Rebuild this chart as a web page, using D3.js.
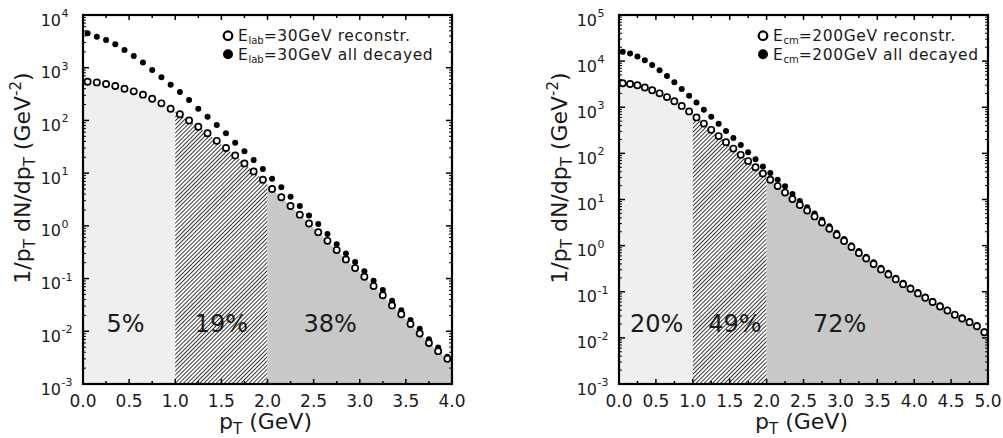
<!DOCTYPE html>
<html>
<head>
<meta charset="utf-8">
<script src="https://cdn.jsdelivr.net/npm/d3@7"></script>
<style>
body { margin: 0; background: #fff; }
svg { display: block; }
text { font-family: "DejaVu Sans", sans-serif; fill: #1a1a1a; }
</style>
</head>
<body>
<div id="chart"></div>
<script>
// E_lab = 30 GeV panel
var ptLab = [0.05,0.15,0.25,0.35,0.45,0.55,0.65,0.75,0.85,0.95,
             1.05,1.15,1.25,1.35,1.45,1.55,1.65,1.75,1.85,1.95,
             2.05,2.15,2.25,2.35,2.45,2.55,2.65,2.75,2.85,2.95,
             3.05,3.15,3.25,3.35,3.45,3.55,3.65,3.75,3.85,3.95];
var labReconstr = [543,527,491,450,400,356,308,258,211,167,
                   131,100,76,57,41,30,21.7,15.3,10.8,7.5,
                   5.0,3.5,2.38,1.63,1.11,0.76,0.52,0.347,0.231,0.158,
                   0.108,0.072,0.048,0.031,0.021,0.0137,0.0091,0.0060,0.0042,0.0030];
var labDecayed = [4490,3880,3360,2780,2170,1670,1250,904,656,477,
                  346,244,167,118,82,57,37.8,25.9,17.7,12.0,
                  7.8,5.4,3.57,2.38,1.58,1.08,0.70,0.45,0.30,0.206,
                  0.137,0.091,0.061,0.038,0.025,0.0163,0.0112,0.0071,0.0049,0.0033];

// E_cm = 200 GeV panel
var ptCm = [0.05,0.15,0.25,0.35,0.45,0.55,0.65,0.75,0.85,0.95,
            1.05,1.15,1.25,1.35,1.45,1.55,1.65,1.75,1.85,1.95,
            2.05,2.15,2.25,2.35,2.45,2.55,2.65,2.75,2.85,2.95,
            3.05,3.15,3.25,3.35,3.45,3.55,3.65,3.75,3.85,3.95,
            4.05,4.15,4.25,4.35,4.45,4.55,4.65,4.75,4.85,4.95];
var cmReconstr = [3310,3200,2990,2690,2340,2000,1660,1350,1070,813,
                  603,442,324,237,174,127,93,68,50,36.7,
                  26.9,19.5,14.1,10.2,7.6,5.75,4.3,3.16,2.32,1.70,
                  1.26,0.93,0.69,0.525,0.40,0.305,0.237,0.186,0.146,0.116,
                  0.092,0.074,0.060,0.048,0.039,0.0316,0.0263,0.0219,0.0178,0.0132];
var cmDecayed = [16000,14600,12600,10400,8220,6310,4730,3470,2480,1780,
                 1260,885,622,437,307,216,151,106,75,52,
                 37.6,26.9,19.3,13.2,9.3,6.8,5.0,3.63,2.63,1.91,
                 1.40,1.02,0.76,0.575,0.436,0.331,0.257,0.20,0.157,0.124,
                 0.099,0.079,0.063,0.051,0.041,0.0335,0.0279,0.0232,0.0188,0.0138];

var bandEdges = [0, 1, 2];
var fractionsLab = ["5%", "19%", "38%"];
var fractionsCm = ["20%", "49%", "72%"];
var fractionPosLab = [0.46, 1.5, 2.68];
var fractionPosCm = [0.51, 1.57, 2.99];

var expLab = [-3,-2,-1,0,1,2,3,4];
var expCm = [-3,-2,-1,0,1,2,3,4,5];
var xLabelsLab = ["0.0","0.5","1.0","1.5","2.0","2.5","3.0","3.5","4.0"];
var xLabelsCm = ["0.0","0.5","1.0","1.5","2.0","2.5","3.0","3.5","4.0","4.5","5.0"];

var width = 1003,
	height = 438;

var top_ = 15, bottom = 384;

var svg = d3.select("#chart")
	.append("svg")
		.attr("width", width)
		.attr("height", height);

var defs = svg.append("defs");
var hatch = defs.append("pattern")
	.attr("id", "hatch")
	.attr("patternUnits", "userSpaceOnUse")
	.attr("width", 2.9)
	.attr("height", 10)
	.attr("patternTransform", "rotate(45)");
hatch.append("rect").attr("width", 2.9).attr("height", 10).attr("fill", "#fff");
hatch.append("line")
	.attr("x1", 0.5).attr("y1", 0).attr("x2", 0.5).attr("y2", 10)
	.attr("stroke", "#000").attr("stroke-width", 0.8);

drawPanel({
	id: "lab", left: 83, right: 452, xMax: 4, yMax: 1e4,
	pt: ptLab, reco: labReconstr, decayed: labDecayed,
	exps: expLab, xLabels: xLabelsLab,
	fractions: fractionsLab, fractionPos: fractionPosLab,
	sub: "lab", legend: ["=30GeV reconstr.", "=30GeV all decayed"],
	legX: 228, titleX: 30
});

drawPanel({
	id: "cm", left: 619, right: 988, xMax: 5, yMax: 1e5,
	pt: ptCm, reco: cmReconstr, decayed: cmDecayed,
	exps: expCm, xLabels: xLabelsCm,
	fractions: fractionsCm, fractionPos: fractionPosCm,
	sub: "cm", legend: ["=200GeV reconstr.", "=200GeV all decayed"],
	legX: 763, titleX: 567
});

function drawPanel(p) {
	var g = svg.append("g");
	var x = d3.scaleLinear().domain([0, p.xMax]).range([p.left, p.right]);
	var y = d3.scaleLog().domain([1e-3, p.yMax]).range([bottom, top_]);

	// shaded bands under the reconstructed curve
	var pts = [[0, p.reco[0]]]
		.concat(p.pt.map(function(v, i){ return [v, p.reco[i]]; }))
		.concat([[p.xMax, p.reco[p.reco.length - 1]]]);
	var area = d3.area()
		.x(function(d){ return x(d[0]); })
		.y0(bottom)
		.y1(function(d){ return y(d[1]); });
	var fills = ["#efefef", "url(#hatch)", "#c8c8c8"];
	bandEdges.forEach(function(a, i){
		var b = i < bandEdges.length - 1 ? bandEdges[i + 1] : p.xMax;
		var cid = "clip-" + p.id + "-" + i;
		defs.append("clipPath").attr("id", cid)
			.append("rect")
				.attr("x", x(a)).attr("y", top_)
				.attr("width", x(b) - x(a)).attr("height", bottom - top_);
		g.append("path")
			.datum(pts)
			.attr("d", area)
			.attr("fill", fills[i])
			.attr("clip-path", "url(#" + cid + ")");
	});

	// fraction labels
	g.selectAll(".frac")
		.data(p.fractions)
		.enter()
		.append("text")
			.attr("x", function(d, i){ return x(p.fractionPos[i]); })
			.attr("y", 332)
			.attr("text-anchor", "middle")
			.attr("font-size", 24)
			.text(function(d){ return d; });

	// markers
	g.selectAll(".dec")
		.data(p.pt)
		.enter()
		.append("circle")
			.attr("cx", function(d){ return x(d); })
			.attr("cy", function(d, i){ return y(p.decayed[i]); })
			.attr("r", 3)
			.attr("fill", "#000");

	g.selectAll(".reco")
		.data(p.pt)
		.enter()
		.append("circle")
			.attr("cx", function(d){ return x(d); })
			.attr("cy", function(d, i){ return y(p.reco[i]); })
			.attr("r", 3.1)
			.attr("fill", "#fff")
			.attr("stroke", "#000")
			.attr("stroke-width", 1.7);

	// ticks, inward on all four sides
	var ticks = g.append("g").attr("stroke", "#000");
	d3.range(0, p.xMax + 0.001, 0.25).forEach(function(t){
		var len = (Math.round(t * 4) % 2 === 0) ? 5 : 3;
		ticks.append("line").attr("x1", x(t)).attr("x2", x(t)).attr("y1", bottom).attr("y2", bottom - len).attr("stroke-width", 1.5);
		ticks.append("line").attr("x1", x(t)).attr("x2", x(t)).attr("y1", top_).attr("y2", top_ + len).attr("stroke-width", 1.5);
	});
	p.exps.forEach(function(e, k){
		var v = Math.pow(10, e);
		[p.left, p.right].forEach(function(ex, s){
			var dir = s === 0 ? 1 : -1;
			ticks.append("line").attr("x1", ex).attr("x2", ex + dir * 6).attr("y1", y(v)).attr("y2", y(v)).attr("stroke-width", 1.5);
			if (k < p.exps.length - 1) {
				for (var m = 2; m <= 9; m++) {
					ticks.append("line").attr("x1", ex).attr("x2", ex + dir * 3).attr("y1", y(m * v)).attr("y2", y(m * v)).attr("stroke-width", 1);
				}
			}
		});
	});

	// frame
	g.append("rect")
		.attr("x", p.left).attr("y", top_)
		.attr("width", p.right - p.left).attr("height", bottom - top_)
		.attr("fill", "none").attr("stroke", "#000").attr("stroke-width", 2.2);

	// x tick labels
	g.selectAll(".xl")
		.data(p.xLabels)
		.enter()
		.append("text")
			.attr("x", function(d){ return x(+d); })
			.attr("y", 407)
			.attr("text-anchor", "middle")
			.attr("font-size", 17)
			.text(function(d){ return d; });

	// y tick labels 10^n
	p.exps.forEach(function(e){
		var yy = y(Math.pow(10, e));
		g.append("text")
			.attr("x", p.left - 22).attr("y", yy + 10.5)
			.attr("text-anchor", "end")
			.attr("font-size", 16)
			.text("10");
		g.append("text")
			.attr("x", p.left - 21.5).attr("y", yy + 2)
			.attr("font-size", 11)
			.text(e);
	});

	// x title
	var xt = g.append("text")
		.attr("x", (p.left + p.right) / 2 - 2).attr("y", 429)
		.attr("text-anchor", "middle")
		.attr("font-size", 22);
	xt.append("tspan").text("p");
	xt.append("tspan").attr("font-size", 15).attr("dy", 5).text("T");
	xt.append("tspan").attr("dy", -5).text(" (GeV)");

	// y title
	var yt = g.append("text")
		.attr("transform", "translate(" + p.titleX + ",178) rotate(-90)")
		.attr("text-anchor", "middle")
		.attr("font-size", 22);
	yt.append("tspan").text("1/p");
	yt.append("tspan").attr("font-size", 15).attr("dy", 5).text("T");
	yt.append("tspan").attr("dy", -5).text(" dN/dp");
	yt.append("tspan").attr("font-size", 15).attr("dy", 5).text("T");
	yt.append("tspan").attr("dy", -5).text(" (GeV");
	yt.append("tspan").attr("font-size", 15).attr("dy", -9).text("-2");
	yt.append("tspan").attr("dy", 9).text(")");

	// legend
	var rows = [35.7, 54.3];
	g.append("circle").attr("cx", p.legX).attr("cy", rows[0]).attr("r", 4.3)
		.attr("fill", "#fff").attr("stroke", "#000").attr("stroke-width", 2.2);
	g.append("circle").attr("cx", p.legX).attr("cy", rows[1]).attr("r", 5)
		.attr("fill", "#000");
	p.legend.forEach(function(txt, i){
		var t = g.append("text")
			.attr("x", p.legX + 10).attr("y", rows[i] + 5.5)
			.attr("font-size", 15.5)
			.attr("letter-spacing", 0.6);
		t.append("tspan").text("E");
		t.append("tspan").attr("font-size", 10).attr("dy", 3).attr("letter-spacing", 0).text(p.sub);
		t.append("tspan").attr("dy", -3).text(txt);
	});
}
</script>
</body>
</html>
